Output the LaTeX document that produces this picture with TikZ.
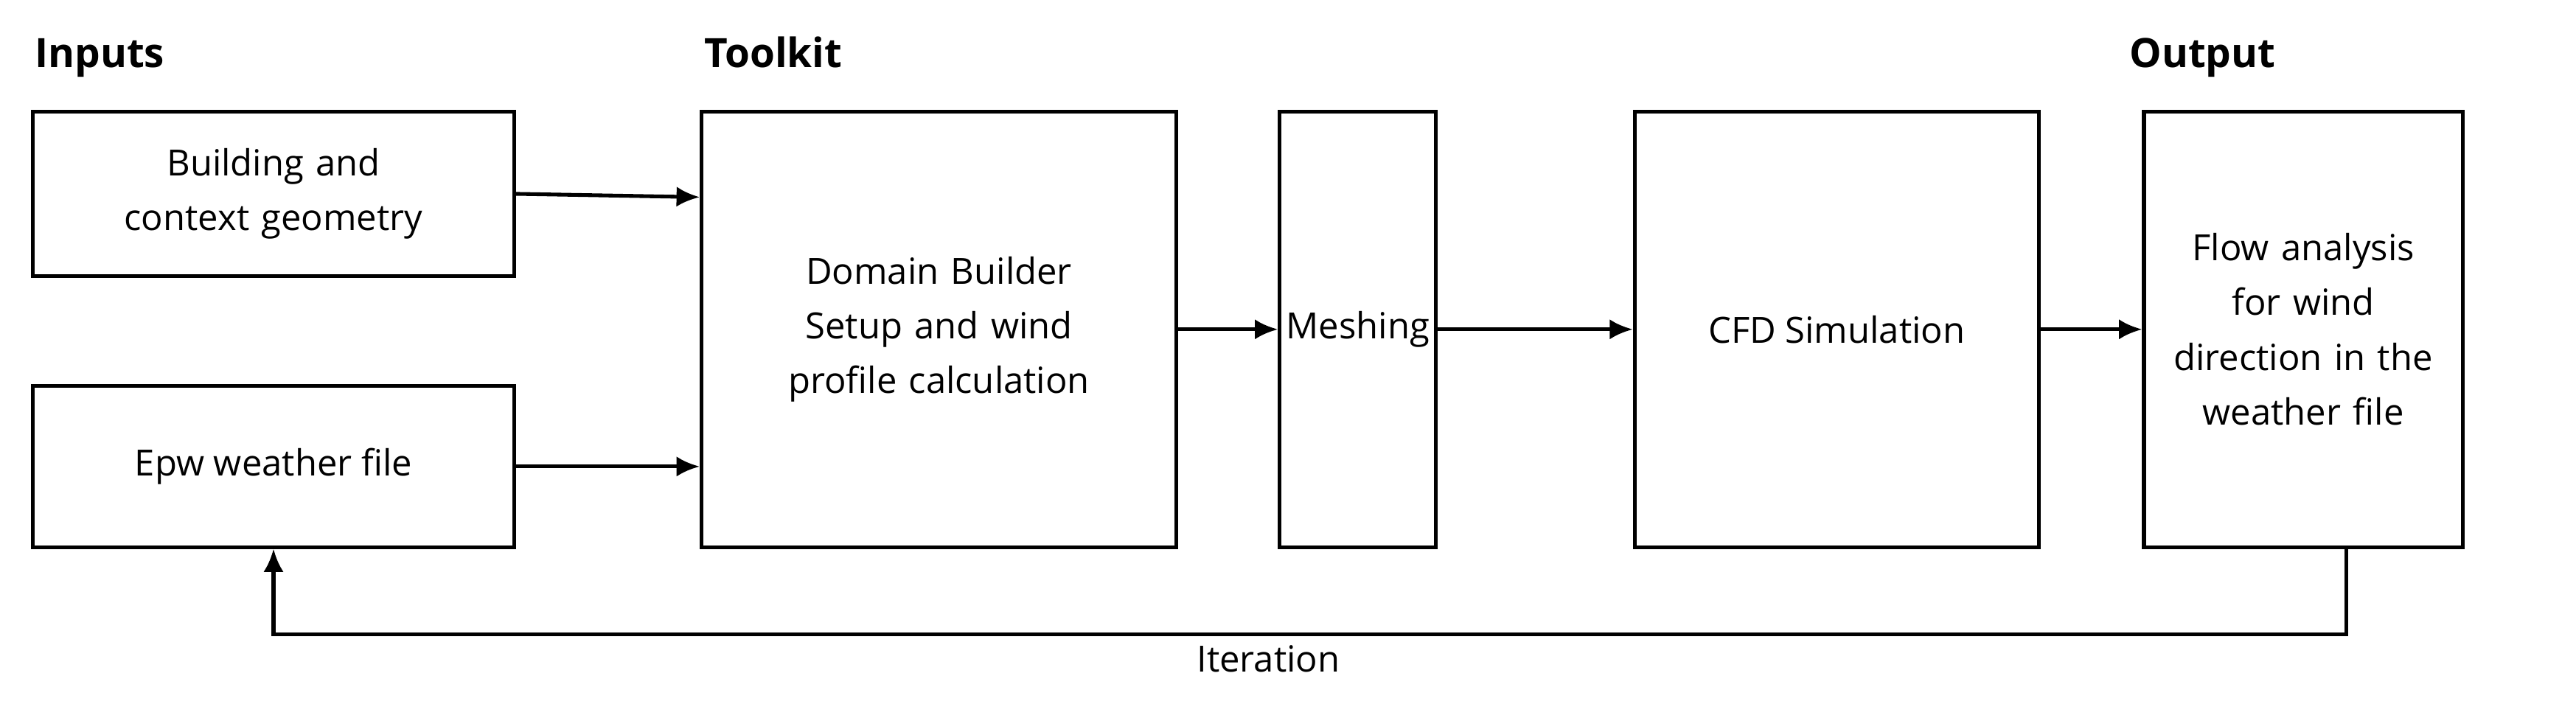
\documentclass[tikz,border=0pt]{standalone}
\usepackage{fontspec}
\setmainfont{Open Sans}
\usetikzlibrary{arrows.meta,positioning}

\begin{document}
\begin{tikzpicture}[auto]
        \tikzstyle{block} = [rectangle, draw, line width=1.3pt, text centered, inner sep=0pt, font=\fontsize{12.5}{19}\selectfont]
        \tikzstyle{head} = [anchor=base west, font=\fontsize{14}{17}\selectfont\bfseries]
        \tikzstyle{line} = [draw, line width=1.3pt, -{Latex[length=8pt,width=7pt]}]
        \useasboundingbox (0,0) rectangle (31.36,-8.74);

        \node [head] (inputs) at (0.3,-0.82) {Inputs};
        \node [head] (toolkit) at (8.45,-0.82) {Toolkit};
        \node [head] (output) at (25.8,-0.82) {Output};

        \node [block, minimum width=5.86cm, minimum height=2cm, text width=5.5cm] (geom) at (3.33,-2.36) {Building and\\context geometry};
        \node [block, minimum width=5.86cm, minimum height=1.96cm] (epw) at (3.33,-5.68) {Epw weather file};
        \node [block, minimum width=5.78cm, minimum height=5.3cm, text width=5.4cm] (domain) at (11.43,-4.01) {Domain Builder\\Setup and wind\\profile calculation};
        \node [block, minimum width=1.9cm, minimum height=5.3cm, text width=1.9cm] (mesh) at (16.53,-4.01) {Meshing};
        \node [block, minimum width=4.92cm, minimum height=5.3cm] (cfd) at (22.36,-4.01) {CFD Simulation};
        \node [block, minimum width=3.88cm, minimum height=5.3cm, text width=3.7cm] (flow) at (28.04,-4.01) {Flow analysis\\for wind\\direction in the\\weather file};

        \path [line] (geom.east) -- ([yshift=-0.04cm]domain.west |- geom.east);
        \path [line] (epw.east) -- (domain.west |- epw.east);
        \path [line] (domain) -- (mesh);
        \path [line] (mesh) -- (cfd);
        \path [line] (cfd) -- (flow);
        \path [line] ([xshift=0.52cm]flow.south) -- ++(0,-1.04) -| node [pos=0.26, below, font=\fontsize{12.5}{15}\selectfont] {Iteration} (epw.south);
    \end{tikzpicture}
\end{document}
